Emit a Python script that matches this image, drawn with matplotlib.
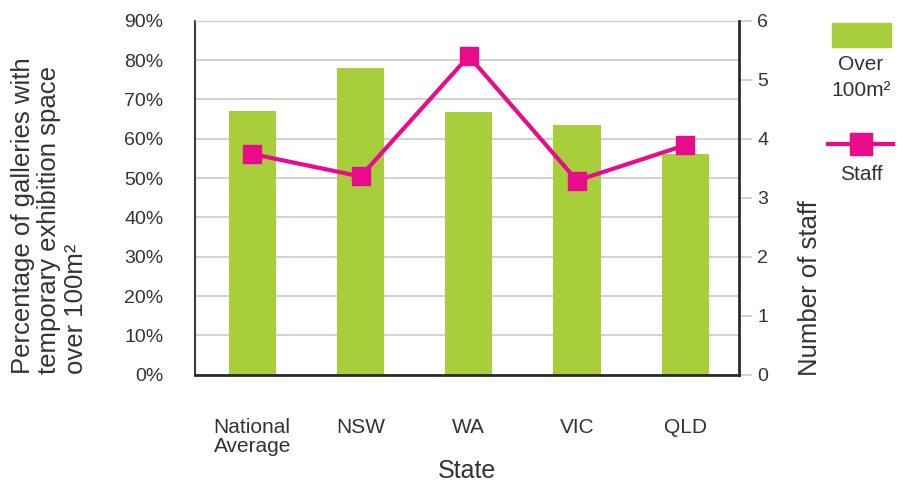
import numpy as np
import matplotlib.pyplot as plt
from matplotlib.patches import Rectangle
from matplotlib.lines import Line2D

plt.rcParams['font.family'] = ['Liberation Sans', 'DejaVu Sans']

# 데이터
states = ['National\nAverage', 'NSW', 'WA', 'VIC', 'QLD']
over_100m2 = [67.0, 78.0, 66.9, 63.4, 56.0]   # %
staff = [3.74, 3.36, 5.40, 3.29, 3.89]

green = '#a8cf3b'
pink = '#ea0a8c'
grid_c = '#c9c9c9'
text_c = '#333333'

fig = plt.figure(figsize=(9.04, 4.82), dpi=100)
ax = fig.add_axes([195.3 / 904, 1 - 374.7 / 482, 544 / 904, 354 / 482])
x = np.arange(len(states))

ax.bar(x, over_100m2, width=0.435, color=green, zorder=2)
ax.set_ylim(0, 90)
ax.set_xlim(-0.527, 4.5)
ax.set_yticks(np.arange(0, 91, 10))
ax.set_yticklabels([f'{v}%' for v in range(0, 91, 10)])
ax.yaxis.grid(True, color=grid_c, linewidth=1.2, zorder=0)
ax.set_axisbelow(True)
ax.tick_params(axis='y', length=0, pad=23, labelsize=14, colors=text_c)
ax.set_xticks(x)
ax.set_xticklabels(states, fontsize=15, color=text_c, linespacing=1.0)
ax.tick_params(axis='x', length=0, pad=31)
for lbl in ax.get_xticklabels():
    lbl.set_multialignment('left')
ax.set_xlabel('State', fontsize=18, color=text_c, labelpad=2)

ax.spines['top'].set_color(grid_c)
ax.spines['right'].set_visible(False)
ax.spines['left'].set_color('#3a3a3a')
ax.spines['left'].set_linewidth(1.5)
ax.spines['bottom'].set_color('#2a2a2a')
ax.spines['bottom'].set_linewidth(2)

# 오른쪽 축 (staff)
ax2 = ax.twinx()
ax2.plot(x, staff, color=pink, linewidth=3, marker='s', markersize=13.5, zorder=3)
ax2.set_ylim(0, 6)
ax2.set_yticks(range(0, 7))
ax2.tick_params(axis='y', length=9.5, width=1.2, color=grid_c, pad=3.5,
                labelsize=14, labelcolor=text_c)
for s in ['top', 'left', 'bottom']:
    ax2.spines[s].set_visible(False)
ax2.spines['right'].set_color('#2a2a2a')
ax2.spines['right'].set_linewidth(2)

# 축 제목
fig.text(11 / 904, (482 - 374) / 482,
         'Percentage of galleries with\ntemporary exhibition space\nover 100m²',
         rotation=90, ha='left', va='bottom', multialignment='left',
         fontsize=18.5, color=text_c, linespacing=1.12)
fig.text(798 / 904, (482 - 376) / 482, 'Number of staff', rotation=90,
         ha='left', va='bottom', fontsize=18.5, color=text_c)

# 범례 (수동)
fig.patches.append(Rectangle((831.7 / 904, 1 - 46.7 / 482), 59.3 / 904, 23.7 / 482,
                             transform=fig.transFigure, color=green))
fig.text(861 / 904, 1 - 64 / 482, 'Over', ha='center', va='center',
         fontsize=15, color=text_c)
fig.text(861 / 904, 1 - 91 / 482, '100m²', ha='center', va='center',
         fontsize=15, color=text_c)
fig.lines.append(Line2D([828 / 904, 893 / 904], [1 - 144 / 482] * 2,
                        transform=fig.transFigure, color=pink, linewidth=3))
fig.lines.append(Line2D([861 / 904], [1 - 144 / 482], transform=fig.transFigure,
                        color=pink, marker='s', markersize=16.5, linestyle='none'))
fig.text(861 / 904, 1 - 174 / 482, 'Staff', ha='center', va='center',
         fontsize=15, color=text_c)

fig.savefig('out.png', dpi=100)
